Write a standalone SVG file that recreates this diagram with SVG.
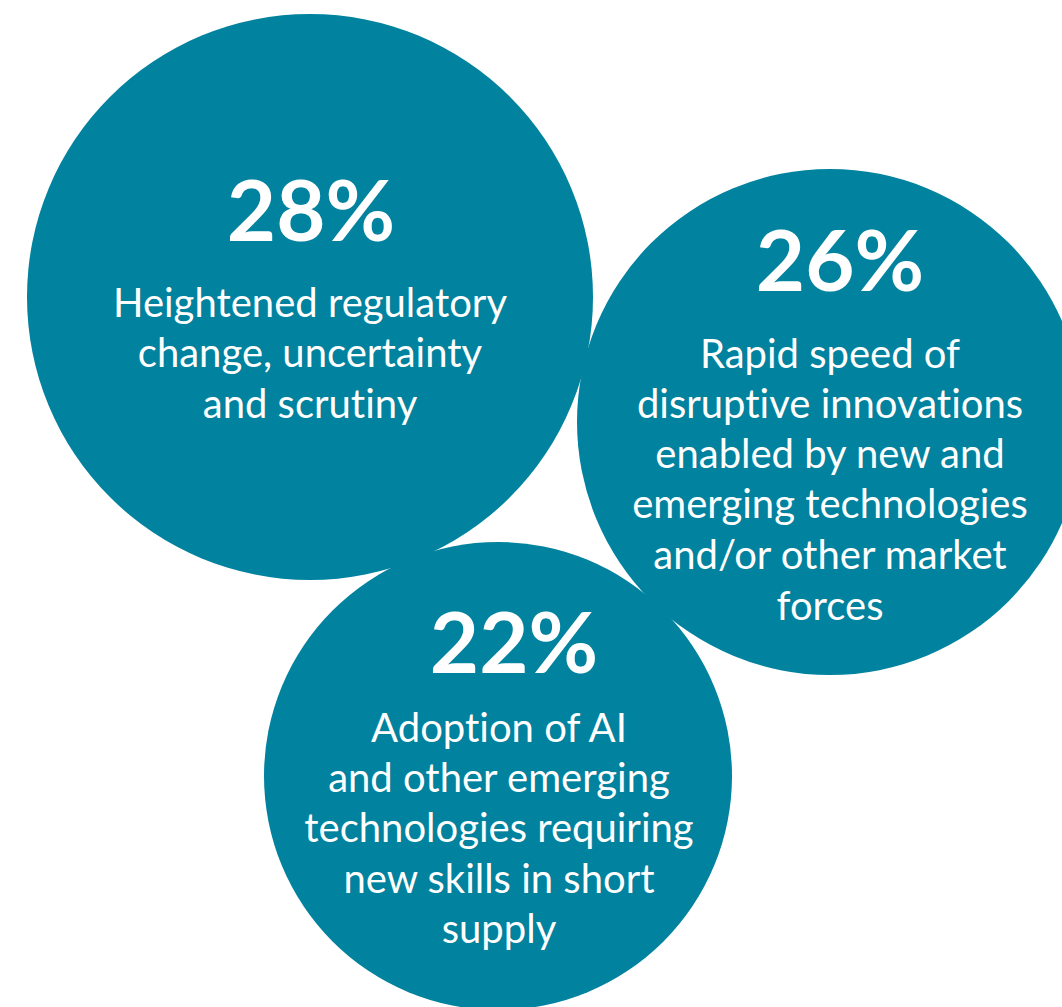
<svg xmlns="http://www.w3.org/2000/svg" width="1062" height="1007" viewBox="0 0 1062 1007">
  <style>
    .bubble { fill: #01829e; }
    .pct { font-family: Lato, "Open Sans", sans-serif; font-weight: bold; font-size: 85px; fill: #ffffff; text-anchor: middle; }
    .lbl { font-family: Lato, "Open Sans", sans-serif; font-size: 40px; fill: #ffffff; text-anchor: middle; font-variant-ligatures: none; }
  </style>
  <rect width="1062" height="1007" fill="#ffffff"/>
  <g id="node-28">
    <circle class="bubble" cx="310" cy="297" r="283"/>
    <text class="pct" x="311" y="241">28%</text>
    <text class="lbl" x="310" y="317">Heightened regulatory</text>
    <text class="lbl" x="310" y="367">change, uncertainty</text>
    <text class="lbl" x="310" y="418">and scrutiny</text>
  </g>
  <g id="node-26">
    <circle class="bubble" cx="830" cy="422" r="253"/>
    <text class="pct" x="840" y="291">26%</text>
    <text class="lbl" x="830" y="368">Rapid speed of</text>
    <text class="lbl" x="830" y="418">disruptive innovations</text>
    <text class="lbl" x="830" y="468">enabled by new and</text>
    <text class="lbl" x="830" y="518">emerging technologies</text>
    <text class="lbl" x="830" y="569">and/or other market</text>
    <text class="lbl" x="830" y="620">forces</text>
  </g>
  <g id="node-22">
    <circle class="bubble" cx="498" cy="776" r="234"/>
    <text class="pct" x="514" y="673">22%</text>
    <text class="lbl" x="499" y="742">Adoption of AI</text>
    <text class="lbl" x="499" y="792">and other emerging</text>
    <text class="lbl" x="499" y="842">technologies requiring</text>
    <text class="lbl" x="499" y="893">new skills in short</text>
    <text class="lbl" x="499" y="943">supply</text>
  </g>
  <g id="connectors"></g>
</svg>
